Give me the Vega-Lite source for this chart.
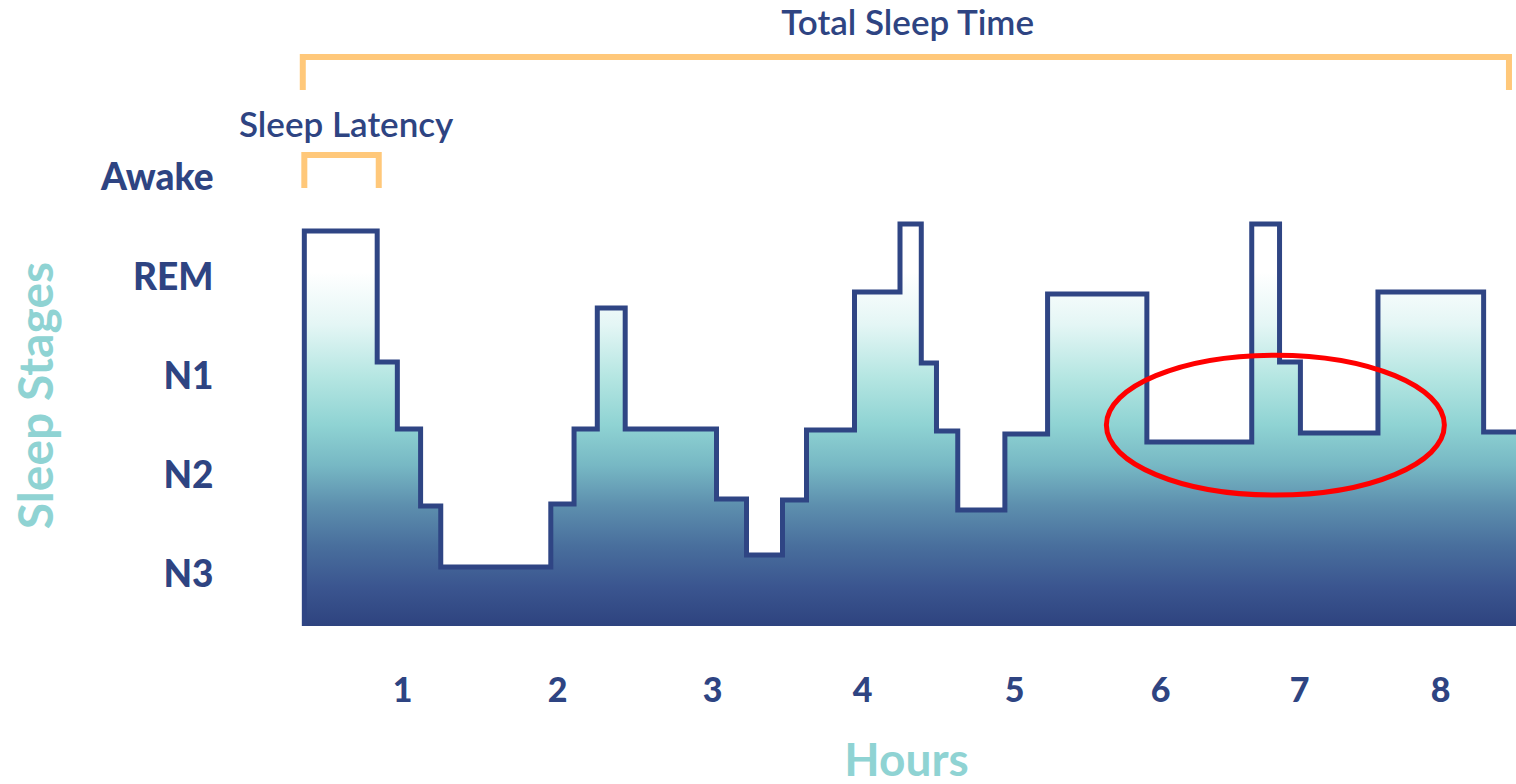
{
  "$schema": "https://vega.github.io/schema/vega-lite/v6.json",
  "width": 1214,
  "height": 626,
  "autosize": "none",
  "padding": {"left": 302, "top": 0, "right": 0, "bottom": 158},
  "background": "white",
  "config": {"view": {"stroke": null}},
  "datasets": {
    "stages": [
      {"i": 0, "hour": 0.37, "level": 0.476},
      {"i": 1, "hour": 0.37, "level": 4.456},
      {"i": 2, "hour": 0.84, "level": 3.136},
      {"i": 3, "hour": 0.97, "level": 2.461},
      {"i": 4, "hour": 1.12, "level": 1.685},
      {"i": 5, "hour": 1.25, "level": 1.071},
      {"i": 6, "hour": 1.96, "level": 1.705},
      {"i": 7, "hour": 2.11, "level": 2.461},
      {"i": 8, "hour": 2.26, "level": 3.68},
      {"i": 9, "hour": 2.44, "level": 2.461},
      {"i": 10, "hour": 3.03, "level": 1.756},
      {"i": 11, "hour": 3.23, "level": 1.191},
      {"i": 12, "hour": 3.47, "level": 1.746},
      {"i": 13, "hour": 3.63, "level": 2.451},
      {"i": 14, "hour": 3.95, "level": 3.841},
      {"i": 15, "hour": 4.25, "level": 4.526},
      {"i": 16, "hour": 4.39, "level": 3.126},
      {"i": 17, "hour": 4.49, "level": 2.441},
      {"i": 18, "hour": 4.63, "level": 1.645},
      {"i": 19, "hour": 4.94, "level": 2.411},
      {"i": 20, "hour": 5.23, "level": 3.821},
      {"i": 21, "hour": 5.91, "level": 2.33},
      {"i": 22, "hour": 6.66, "level": 4.526},
      {"i": 23, "hour": 6.86, "level": 3.136},
      {"i": 24, "hour": 7.01, "level": 2.421},
      {"i": 25, "hour": 7.56, "level": 3.841},
      {"i": 26, "hour": 8.31, "level": 2.431},
      {"i": 27, "hour": 8.54, "level": 2.431}
    ],
    "brackets": [
      {"b": "total", "k": 0, "hour": 0.36, "level": 5.877},
      {"b": "total", "k": 1, "hour": 0.36, "level": 6.209},
      {"b": "total", "k": 2, "hour": 8.49, "level": 6.209},
      {"b": "total", "k": 3, "hour": 8.49, "level": 5.877},
      {"b": "latency", "k": 0, "hour": 0.37, "level": 4.889},
      {"b": "latency", "k": 1, "hour": 0.37, "level": 5.222},
      {"b": "latency", "k": 2, "hour": 0.85, "level": 5.222},
      {"b": "latency", "k": 3, "hour": 0.85, "level": 4.889}
    ],
    "notes": [
      {"label": "Total Sleep Time", "hour": 4.3, "level": 6.431},
      {"label": "Sleep Latency", "hour": 0.64, "level": 5.403}
    ],
    "highlight": [
      {"hour": 6.83, "level": 2.5}
    ]
  },
  "layer": [
    {
      "data": {"name": "stages"},
      "transform": [{"filter": "datum.i > 0"}],
      "mark": {
        "type": "area",
        "interpolate": "step-after",
        "color": {
          "gradient": "linear", "x1": 0, "y1": 0, "x2": 0, "y2": 1,
          "stops": [
            {"offset": 0, "color": "#ffffff"},
            {"offset": 0.12, "color": "#ffffff"},
            {"offset": 0.25, "color": "#e4f6f5"},
            {"offset": 0.38, "color": "#b5e6e2"},
            {"offset": 0.5, "color": "#8fd3d3"},
            {"offset": 0.6, "color": "#77b8c4"},
            {"offset": 0.7, "color": "#5d8fae"},
            {"offset": 0.8, "color": "#496f9d"},
            {"offset": 0.9, "color": "#3b5690"},
            {"offset": 1, "color": "#2e437f"}
          ]
        }
      },
      "encoding": {
        "x": {
          "field": "hour", "type": "quantitative",
          "scale": {"domain": [0.355, 1, 2, 3, 4, 5, 6, 7, 8, 8.54], "range": [0, 100, 255, 410, 560, 712, 858, 997, 1138, 1214], "nice": false, "zero": false},
          "axis": {
            "values": [1, 2, 3, 4, 5, 6, 7, 8],
            "format": "d",
            "grid": false, "domain": false, "ticks": false,
            "labelFont": "Lato", "labelFontSize": 34, "labelFontWeight": 900, "labelColor": "#2e4482",
            "labelBaseline": "alphabetic", "labelPadding": 75,
            "title": "Hours", "titleFont": "Lato", "titleFontSize": 46, "titleFontWeight": "bold", "titleColor": "#8fd3d3",
            "titleBaseline": "alphabetic", "titleY": 149, "titleX": 604, "titleAlign": "center"
          }
        },
        "y": {
          "field": "level", "type": "quantitative",
          "scale": {"domain": [0.476, 6.783], "nice": false, "zero": false},
          "axis": {
            "values": [1, 2, 3, 4, 5],
            "labelExpr": "datum.value == 1 ? 'N3' : datum.value == 2 ? 'N2' : datum.value == 3 ? 'N1' : datum.value == 4 ? 'REM' : 'Awake'",
            "grid": false, "domain": false, "ticks": false,
            "labelFont": "Lato", "labelFontSize": 37, "labelFontWeight": 900, "labelColor": "#2e4482",
            "labelBaseline": "middle", "labelPadding": 89, "labelOffset": 2,
            "title": "Sleep Stages", "titleFont": "Lato", "titleFontSize": 48, "titleFontWeight": "bold", "titleColor": "#8fd3d3",
            "titleAngle": 270, "titleAlign": "center", "titleBaseline": "alphabetic", "titleX": -250, "titleY": 395
          }
        },
        "y2": {"datum": 0.476}
      }
    },
    {
      "data": {"name": "stages"},
      "mark": {"type": "line", "interpolate": "step-after", "color": "#2f4584", "strokeWidth": 5, "strokeJoin": "miter"},
      "encoding": {
        "x": {"field": "hour", "type": "quantitative"},
        "y": {"field": "level", "type": "quantitative"},
        "order": {"field": "i"}
      }
    },
    {
      "data": {"name": "brackets"},
      "mark": {"type": "line", "color": "#ffc87a", "strokeWidth": 6, "strokeJoin": "miter", "strokeCap": "butt"},
      "encoding": {
        "x": {"field": "hour", "type": "quantitative"},
        "y": {"field": "level", "type": "quantitative"},
        "detail": {"field": "b"},
        "order": {"field": "k"}
      }
    },
    {
      "data": {"name": "notes"},
      "mark": {"type": "text", "font": "Lato", "fontSize": 35, "fontWeight": 600, "color": "#2e4482", "align": "center", "baseline": "alphabetic"},
      "encoding": {
        "x": {"field": "hour", "type": "quantitative"},
        "y": {"field": "level", "type": "quantitative"},
        "text": {"field": "label"}
      }
    },
    {
      "data": {"name": "highlight"},
      "mark": {"type": "point", "shape": "M -1 0 A 1 0.414 0 1 0 1 0 A 1 0.414 0 1 0 -1 0 Z", "size": 114244, "filled": false, "stroke": "#ff0000", "strokeWidth": 5, "opacity": 1},
      "encoding": {
        "x": {"field": "hour", "type": "quantitative"},
        "y": {"field": "level", "type": "quantitative"}
      }
    }
  ]
}
